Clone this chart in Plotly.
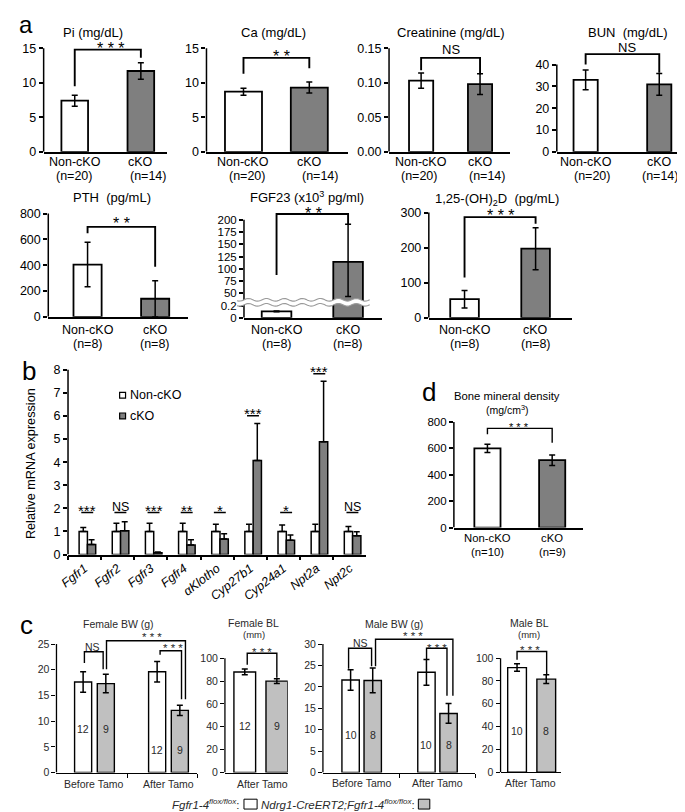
import numpy as np
import plotly.graph_objects as go

W, H = 685, 812
FONT = "Liberation Sans, Arial, Helvetica, sans-serif"
WHITE, DARK, LIGHT = "#ffffff", "#7f7f7f", "#c0c0c0"
CTEXT = "#2a2a2a"

# ===================== DATA =====================
# ---- panel a ----
a_groups = ["Non-cKO", "cKO"]
a_n_top = ["(n=20)", "(n=14)"]
a_n_bottom = ["(n=8)", "(n=8)"]
pi_mean = [7.4, 11.7]
pi_sd = [0.8, 1.2]
ca_mean = [8.7, 9.3]
ca_sd = [0.5, 0.8]
crea_mean = [0.103, 0.098]
crea_sd = [0.011, 0.015]
bun_mean = [33.0, 30.9]
bun_sd = [4.5, 5.0]
pth_mean = [405, 140]
pth_sd = [172, 140]
fgf23_mean = [0.105, 114]
fgf23_sd = [0.008, 77]
vitd_mean = [53, 197]
vitd_sd = [25, 60]
a_sig = ["***", "**", "NS", "NS", "**", "**", "***"]
# bracket levels: [left foot, top, right foot]
pi_br = [9.5, 14.8, 13.6]
ca_br = [11.3, 13.6, 12.1]
crea_br = [0.118, 0.136, 0.112]
bun_br = [40.0, 44.8, 36.2]
pth_br = [647, 697, 387]
fgf23_br = [87.5, 212, 191.5]
vitd_br = [115, 287, 268]
fgf23_ticks = [0, 0.2, 50, 75, 100, 125, 150, 175, 200]

# ---- panel b ----
genes = ["Fgfr1", "Fgfr2", "Fgfr3", "Fgfr4", "αKlotho", "Cyp27b1", "Cyp24a1", "Npt2a", "Npt2c"]
mrna_non = [1.0, 1.0, 1.0, 1.0, 1.0, 1.0, 1.0, 1.0, 1.0]
mrna_non_err = [0.17, 0.35, 0.35, 0.35, 0.31, 0.31, 0.28, 0.31, 0.21]
mrna_cko = [0.43, 1.03, 0.08, 0.41, 0.67, 4.07, 0.62, 4.88, 0.81]
mrna_cko_err = [0.21, 0.39, 0.03, 0.23, 0.23, 1.60, 0.23, 2.62, 0.18]
mrna_sig = ["***", "NS", "***", "**", "*", "***", "*", "***", "NS"]
mrna_sig_level = [1.82, 1.82, 1.82, 1.82, 1.82, 6.01, 1.82, 7.83, 1.82]
mrna_ticks = [0, 1, 2, 3, 4, 5, 6, 7, 8]

# ---- panel d ----
bmd_mean = [600, 511]
bmd_sd = [31, 40]
d_n = ["(n=10)", "(n=9)"]
bmd_br = [707, 752, 644]

# ---- panel c ----
tamo = ["Before Tamo", "After Tamo"]
fbw_flox = [17.6, 19.6]
fbw_flox_sd = [2.0, 2.0]
fbw_cko = [17.3, 12.1]
fbw_cko_sd = [1.8, 1.0]
fbw_n_flox = [12, 12]
fbw_n_cko = [9, 9]
fbl_mean = [87.9, 79.9]
fbl_sd = [2.5, 2.0]
fbl_n = [12, 9]
mbw_flox = [21.6, 23.4]
mbw_flox_sd = [2.4, 3.0]
mbw_cko = [21.5, 13.8]
mbw_cko_sd = [2.9, 2.3]
mbw_n_flox = [10, 10]
mbw_n_cko = [8, 8]
mbl_mean = [91.7, 81.6]
mbl_sd = [3.3, 3.9]
mbl_n = [10, 8]
# brackets: levels [left foot, top, right foot]
fbw_br_ns = [21.3, 23.5, 20.1]
fbw_br_long = [20.1, 25.65, 14.25]
fbw_br_short = [22.9, 23.7, 14.25]
fbl_br = [94.2, 104.3, 82.8]
mbw_br_ns = [24.2, 29.0, 24.8]
mbw_br_long = [24.8, 31.1, 17.9]
mbw_br_short = [26.3, 29.0, 17.9]
mbl_br = [98.5, 105.8, 85.6]

# ===================== HELPERS =====================
fig = go.Figure()
lay = {}
shapes = []
anns = []
_k = [0]


def P(px, py):
    return px / W, 1 - py / H


def text(t, px, py, size, color="black", **kw):
    x, y = P(px, py)
    d = dict(text=t, x=x, y=y, xref="paper", yref="paper", showarrow=False,
             xanchor="center", yanchor="middle",
             font=dict(size=size, color=color, family=FONT))
    d.update(kw)
    anns.append(d)


def sig(t, px, py, size, color="black", spaced=False):
    shift = 0.23 * size if "*" in t else 0.0
    if spaced and "*" in t:
        t = " ".join(t)
    text(t, px, py + shift, size, color)


def axes(left, right, c0, c1, y0px, ref_px, ref_val, ytop, tickvals, ticktext=None,
         axis_top=None, tfs=12.5, tcolor="black", xtick_px=None, lw=1.5):
    _k[0] += 1
    s = "" if _k[0] == 1 else str(_k[0])
    ppu = (y0px - ref_px) / ref_val
    top_px = y0px - ytop * ppu
    ux = c1 - c0
    xt = None if xtick_px is None else [(p - c0) / ux for p in xtick_px]
    lay["xaxis" + s] = dict(domain=[left / W, right / W],
                            range=[(left - c0) / ux, (right - c0) / ux],
                            anchor="y" + s, showline=True, linecolor="black", linewidth=lw,
                            showgrid=False, zeroline=False, showticklabels=False,
                            ticks="outside" if xt else "", tickvals=xt, ticklen=4,
                            tickwidth=lw, tickcolor="black", fixedrange=True)
    lay["yaxis" + s] = dict(domain=[1 - y0px / H, 1 - top_px / H], range=[0, ytop],
                            anchor="x" + s, showline=False, showgrid=False, zeroline=False,
                            ticks="outside", ticklen=4, tickwidth=lw, tickcolor="black",
                            tickvals=tickvals, ticktext=ticktext, fixedrange=True,
                            tickfont=dict(size=tfs, color=tcolor, family=FONT))
    shapes.append(dict(type="line", xref="x" + s + " domain", yref="y" + s,
                       x0=0, x1=0, y0=0,
                       y1=tickvals[-1] if axis_top is None else axis_top,
                       line=dict(color="black", width=lw)))
    return dict(xa="x" + s, ya="y" + s, s=s, ux=ux, c0=c0, y0px=y0px, ppu=ppu)


def xpx(ax, x):
    return ax["c0"] + x * ax["ux"]


def ypx(ax, v):
    return ax["y0px"] - v * ax["ppu"]


def bars(ax, xs, ys, sd, colors, wpx, minus=None, up_only=False, lw=1.8):
    w = wpx / ax["ux"]
    err = dict(type="data", array=list(sd), color="black", thickness=1.5, width=3)
    if up_only:
        err.update(symmetric=False, arrayminus=[0.0] * len(sd))
    elif minus is not None:
        err.update(symmetric=False, arrayminus=list(minus))
    fig.add_trace(go.Bar(x=list(xs), y=list(ys), width=w, offset=-w / 2,
                         marker=dict(color=colors, line=dict(color="black", width=lw)),
                         error_y=err, xaxis=ax["xa"], yaxis=ax["ya"],
                         showlegend=False, hoverinfo="skip"))


def bracket(ax, x0, x1, lv, lw=1.9):
    shapes.append(dict(type="path", xref=ax["xa"], yref=ax["ya"],
                       path=f"M {x0},{lv[0]} L {x0},{lv[1]} L {x1},{lv[1]} L {x1},{lv[2]}",
                       line=dict(color="black", width=lw)))


def bracket_px(ax, px0, px1, lv, lw=1.4):
    bracket(ax, (px0 - ax["c0"]) / ax["ux"], (px1 - ax["c0"]) / ax["ux"], lv, lw)


def fgf_scale(v):
    v = np.asarray(v, dtype=float)
    return np.where(v <= 0.2, v / 0.2,
                    np.where(v <= 50, 1 + (v - 0.2) / 49.8, 2 + (v - 50) / 25))


# ===================== PANEL a (top row) =====================
text("a", 9.3, 13.0, 24)
two = [0, 1]
cols_a = [WHITE, DARK]
SA = 16  # asterisk size in panel a

ax = axes(27, 152, 58.5, 125.5, 141.7, 36.7, 15, 15.5, [0, 5, 10, 15])
bars(ax, two, pi_mean, pi_sd, cols_a, 27)
bracket(ax, 0, 1, pi_br)
text("Pi (mg/dL)", 77, 20.7, 13)
sig(a_sig[0], 95, 33.3, SA, spaced=True)
nx_top = [[57.5, 133], [233, 306.7], [407.5, 476.7], [582.5, 652]]
axes_top = [ax]

ax = axes(192, 335, 229.5, 296.2, 141.7, 36.7, 15, 15.5, [0, 5, 10, 15])
bars(ax, two, ca_mean, ca_sd, cols_a, 37.5)
bracket(ax, 0, 1, ca_br)
text("Ca (mg/dL)", 260, 20.7, 13)
sig(a_sig[1], 268.3, 41.7, SA, spaced=True)
axes_top.append(ax)

ax = axes(377, 500, 409.5, 469.2, 141.7, 36.7, 0.15, 0.155, [0, 0.05, 0.10, 0.15],
          ticktext=["0.00", "0.05", "0.10", "0.15"])
bars(ax, two, crea_mean, crea_sd, cols_a, 24.5)
bracket(ax, 0, 1, crea_br)
text("Creatinine (mg/dL)", 440, 20.7, 13)
sig(a_sig[2], 440, 38.3, 13)
axes_top.append(ax)

ax = axes(547, 673, 576.2, 650.8, 141.7, 53.3, 40, 46.5, [0, 10, 20, 30, 40])
bars(ax, two, bun_mean, bun_sd, cols_a, 24.5)
bracket(ax, 0, 1, bun_br)
text("BUN  (mg/dL)", 618.3, 20.7, 13)
sig(a_sig[3], 618, 36, 13)
axes_top.append(ax)

for axx, nxs in zip(axes_top, nx_top):
    for i in two:
        text(a_groups[i], xpx(axx, i), 152, 12.5)
        text(a_n_top[i], nxs[i], 166.7, 12.5)

# ===================== PANEL a (bottom row) =====================
axes_bot = []
ax = axes(31.7, 173, 71.5, 140, 309, 204.3, 800, 820, [0, 200, 400, 600, 800])
bars(ax, two, pth_mean, pth_sd, cols_a, 28.5)
bracket(ax, 0, 1, pth_br)
text("PTH  (pg/mL)", 96.7, 188.3, 13)
sig(a_sig[4], 106, 211, SA, spaced=True)
axes_bot.append(ax)

fgf_tv = [float(t) for t in fgf_scale(fgf23_ticks)]
fgf_tt = [f"{t:g}" for t in fgf23_ticks]
ax = axes(230, 370, 263, 335.5, 310, 210.7, 8, 8.9, fgf_tv, ticktext=fgf_tt, axis_top=8,
          tfs=11.5)
fy = fgf_scale(fgf23_mean)
fup = fgf_scale(np.array(fgf23_mean) + np.array(fgf23_sd)) - fy
fdn = fy - fgf_scale(np.array(fgf23_mean) - np.array(fgf23_sd))
bars(ax, two, list(fy), list(fup), cols_a, 30, minus=list(fdn))
bracket(ax, 0, 1, list(fgf_scale(fgf23_br)))
# axis break (wavy band)
wx = np.linspace(-0.05, 0.91, 80)
phase = 2 * np.pi * wx / 0.13
up_w = 1.47 + 0.11 * np.sin(phase)
lo_w = 1.06 + 0.11 * np.sin(phase)
band = ("M " + " L ".join(f"{a:.4f},{b:.4f}" for a, b in zip(wx, up_w)) + " L " +
        " L ".join(f"{a:.4f},{b:.4f}" for a, b in zip(wx[::-1], lo_w[::-1])) + " Z")
shapes.append(dict(type="path", xref=ax["xa"] + " domain", yref=ax["ya"], path=band,
                   fillcolor="white", line=dict(width=0)))
for curve in (up_w, lo_w):
    shapes.append(dict(type="path", xref=ax["xa"] + " domain", yref=ax["ya"],
                       path="M " + " L ".join(f"{a:.4f},{b:.4f}" for a, b in zip(wx, curve)),
                       line=dict(color="#9a9a9a", width=1.1)))
text("FGF23 (x10<sup>3</sup> pg/ml)", 294, 188, 13)
sig(a_sig[5], 300, 200.7, SA, spaced=True)
axes_bot.append(ax)

ax = axes(417.3, 562, 453.5, 525.5, 310, 203.3, 300, 310, [0, 100, 200, 300])
bars(ax, two, vitd_mean, vitd_sd, cols_a, 29)
bracket(ax, 0, 1, vitd_br)
text("1,25-(OH)<sub>2</sub>D  (pg/mL)", 486.7, 190, 13)
sig(a_sig[6], 490, 202.7, SA, spaced=True)
axes_bot.append(ax)

for axx in axes_bot:
    for i in two:
        text(a_groups[i], xpx(axx, i), 322, 12.5)
        text(a_n_bottom[i], xpx(axx, i), 336.7, 12.5)

# ===================== PANEL b =====================
text("b", 12.5, 364, 26)
axb = axes(51.7, 354, 0, 1, 550, 362.7, 8, 8.3, mrna_ticks, tfs=12.5)
lay["xaxis" + axb["s"]].update(type="category", range=[-0.5, 8.5], showticklabels=True,
                               ticks="outside", tickson="boundaries", tickvals=None,
                               tickangle=-38, ticklen=4, tickwidth=1.5,
                               tickfont=dict(size=12.5, style="italic", family=FONT,
                                             color="black"))
err_b = dict(type="data", symmetric=False, color="black", thickness=1.5, width=3)
fig.add_trace(go.Bar(x=genes, y=mrna_non, width=0.25, offset=-0.165,
                     marker=dict(color=WHITE, line=dict(color="black", width=1.5)),
                     error_y=dict(err_b, array=mrna_non_err, arrayminus=[0.0] * len(genes)),
                     xaxis=axb["xa"], yaxis=axb["ya"], showlegend=False, hoverinfo="skip"))
fig.add_trace(go.Bar(x=genes, y=mrna_cko, width=0.25, offset=0.085,
                     marker=dict(color=DARK, line=dict(color="black", width=1.5)),
                     error_y=dict(err_b, array=mrna_cko_err, arrayminus=[0.0] * len(genes)),
                     xaxis=axb["xa"], yaxis=axb["ya"], showlegend=False, hoverinfo="skip"))
cw = (354 - 51.7) / len(genes)
for i, (t, lv) in enumerate(zip(mrna_sig, mrna_sig_level)):
    shapes.append(dict(type="line", xref=axb["xa"], yref=axb["ya"], x0=i - 0.1, x1=i + 0.26,
                       y0=lv, y1=lv, line=dict(color="black", width=1.5)))
    sig(t, 51.7 + cw * (i + 0.58), ypx(axb, lv) - 5.5, 15 if "*" in t else 12.5)
text("Relative mRNA expression", 14, 457.5, 12.7, textangle=-90)
# legend
for (py, col, lab) in [(388.5, WHITE, a_groups[0]), (409.5, DARK, a_groups[1])]:
    x0, y0 = P(104, py - 3)
    x1, y1 = P(110, py + 3)
    shapes.append(dict(type="rect", xref="paper", yref="paper", x0=x0, x1=x1, y0=y0, y1=y1,
                       fillcolor=col, line=dict(color="black", width=1.2)))
    text(lab, 112, py, 12.5, xanchor="left")

# ===================== PANEL d =====================
text("d", 417.5, 385.3, 26)
ax = axes(442.7, 574, 476.7, 542.3, 522.7, 415.7, 800, 820, [0, 200, 400, 600, 800], tfs=11.5)
bars(ax, two, bmd_mean, bmd_sd, cols_a, 26.5)
bracket(ax, 0, 1, bmd_br, lw=1.4)
text("Bone mineral density", 496.7, 389.3, 11.3)
text("(mg/cm<sup>3</sup>)", 496.7, 402.7, 10.5)
sig("***", 508.3, 417.7, 11, spaced=True)
for i in two:
    text(a_groups[i], xpx(ax, i), 533.3, 11.3)
    text(d_n[i], xpx(ax, i), 547.7, 11.3)

# ===================== PANEL c =====================
text("c", 9.7, 621.5, 26)
CS = 10.5
SC = 11.5
# Female BW
ax = axes(40, 182.7, 78.5, 153.5, 771, 640.7, 25, 26.5, [0, 5, 10, 15, 20, 25],
          tfs=CS, tcolor=CTEXT, xtick_px=[112.3, 182.4], lw=1.3)
off = 11.5 / ax["ux"]
gx = [0, 1]
bars(ax, [g - off for g in gx], fbw_flox, fbw_flox_sd, WHITE, 17.3, lw=1.4)
bars(ax, [g + off for g in gx], fbw_cko, fbw_cko_sd, LIGHT, 17.3, lw=1.4)
bracket_px(ax, 68.3, 87.3, fbw_br_ns)
bracket_px(ax, 90.7, 170.7, fbw_br_long)
bracket_px(ax, 145, 166.7, fbw_br_short)
sig("NS", 76.7, 643.3, CS, CTEXT)
sig("***", 136.5, 631.2, SC, CTEXT, spaced=True)
sig("***", 158, 642.2, SC, CTEXT, spaced=True)
text("Female BW (g)", 103, 620.7, CS, CTEXT)
for g, py in zip(gx, [726.7, 748]):
    text(str(fbw_n_flox[g]), xpx(ax, g - off), py, CS, CTEXT)
    text(str(fbw_n_cko[g]), xpx(ax, g + off), py, CS, CTEXT)
    text(tamo[g], xpx(ax, g), 782.7, CS, CTEXT)

# Female BL
ax = axes(210.7, 274.3, 230.8, 263.3, 771, 655, 100, 107, [0, 20, 40, 60, 80, 100],
          tfs=CS, tcolor=CTEXT, lw=1.3)
bars(ax, two, fbl_mean, fbl_sd, [WHITE, LIGHT], 22, lw=1.4)
bracket_px(ax, 233.3, 263.3, fbl_br)
sig("***", 248.3, 646, SC, CTEXT, spaced=True)
text("Female BL", 240, 619.3, CS, CTEXT)
text("(mm)", 240, 630.7, 9.5, CTEXT)
for i in two:
    text(str(fbl_n[i]), xpx(ax, i), 724.3, CS, CTEXT)
text(tamo[1], 248.3, 782.7, CS, CTEXT)

# Male BW
ax = axes(310, 464.3, 349.25, 426.1, 771, 640.7, 30, 32.5, [0, 5, 10, 15, 20, 25, 30],
          tfs=CS, tcolor=CTEXT, xtick_px=[387.7, 464.1], lw=1.3)
off = 11.2 / ax["ux"]
bars(ax, [g - off for g in gx], mbw_flox, mbw_flox_sd, WHITE, 17.6, lw=1.4)
bars(ax, [g + off for g in gx], mbw_cko, mbw_cko_sd, LIGHT, 17.6, lw=1.4)
bracket_px(ax, 336, 359.3, mbw_br_ns)
bracket_px(ax, 363.3, 441.7, mbw_br_long)
bracket_px(ax, 415, 435.7, mbw_br_short)
sig("NS", 348, 639.3, CS, CTEXT)
sig("***", 401.5, 630, SC, CTEXT, spaced=True)
sig("***", 426, 642, SC, CTEXT, spaced=True)
text("Male BW (g)", 381.7, 620, CS, CTEXT)
for g, py in zip(gx, [732.7, 743.3]):
    text(str(mbw_n_flox[g]), xpx(ax, g - off), py, CS, CTEXT)
    text(str(mbw_n_cko[g]), xpx(ax, g + off), py, CS, CTEXT)
    text(tamo[g], xpx(ax, g), 781.7, CS, CTEXT)

# Male BL
ax = axes(490, 551, 506.7, 536.3, 770.7, 655, 100, 108, [0, 20, 40, 60, 80, 100],
          tfs=CS, tcolor=CTEXT, lw=1.3)
bars(ax, two, mbl_mean, mbl_sd, [WHITE, LIGHT], 19, lw=1.4)
bracket_px(ax, 506.7, 536.7, mbl_br)
sig("***", 520, 644, SC, CTEXT, spaced=True)
text("Male BL", 519, 619.3, CS, CTEXT)
text("(mm)", 519, 630.7, 9.5, CTEXT)
for i in two:
    text(str(mbl_n[i]), xpx(ax, i), 729.3, CS, CTEXT)
text(tamo[1], 520, 781.7, CS, CTEXT)

# bottom legend
text("<i>Fgfr1-4<sup>flox/flox</sup></i>:", 228, 803, 11.5, CTEXT, xanchor="right")
text("<i>Ndrg1-CreERT2;Fgfr1-4<sup>flox/flox</sup></i>:", 405, 803, 11.5, CTEXT,
     xanchor="right")
for (a, b, col) in [(230, 243.3, WHITE), (406.7, 418.3, LIGHT)]:
    x0, y0 = P(a, 808)
    x1, y1 = P(b, 798)
    shapes.append(dict(type="rect", xref="paper", yref="paper", x0=x0, x1=x1, y0=y0, y1=y1,
                       fillcolor=col, line=dict(color="black", width=1)))

fig.update_layout(width=W, height=H, margin=dict(l=0, r=0, t=0, b=0),
                  paper_bgcolor="white", plot_bgcolor="white", showlegend=False,
                  barmode="overlay", font=dict(family=FONT, size=12, color="black"),
                  shapes=shapes, annotations=anns, **lay)
fig.write_html("out.html", config={"displayModeBar": False})
